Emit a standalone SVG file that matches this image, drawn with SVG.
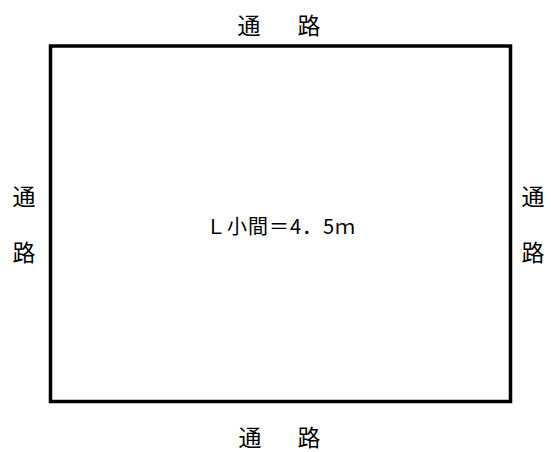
<svg xmlns="http://www.w3.org/2000/svg" width="551" height="452" viewBox="0 0 551 452">
<style>
.t{font-family:"Noto Sans CJK JP","Noto Sans",sans-serif;font-size:23px;fill:#000;text-anchor:middle;dominant-baseline:central}
.c{font-family:"Noto Sans CJK JP","Noto Sans",sans-serif;font-size:20px;fill:#000;dominant-baseline:central}
</style>
<rect width="551" height="452" fill="#fff"/>
<g id="booth">
<rect x="50.5" y="46" width="460" height="355.5" fill="none" stroke="#000" stroke-width="3.5"/>
<text class="c" x="206" y="225" textLength="149" lengthAdjust="spacing">Ｌ小間＝4．5ｍ</text>
</g>
<g id="aisle-top"><text class="t" x="249" y="24">通</text><text class="t" x="309" y="24">路</text></g>
<g id="aisle-bottom"><text class="t" x="250" y="436">通</text><text class="t" x="309" y="436">路</text></g>
<g id="aisle-left"><text class="t" x="24" y="195">通</text><text class="t" x="24" y="251">路</text></g>
<g id="aisle-right"><text class="t" x="533" y="195">通</text><text class="t" x="533" y="251">路</text></g>
<g id="connectors"></g>
</svg>
